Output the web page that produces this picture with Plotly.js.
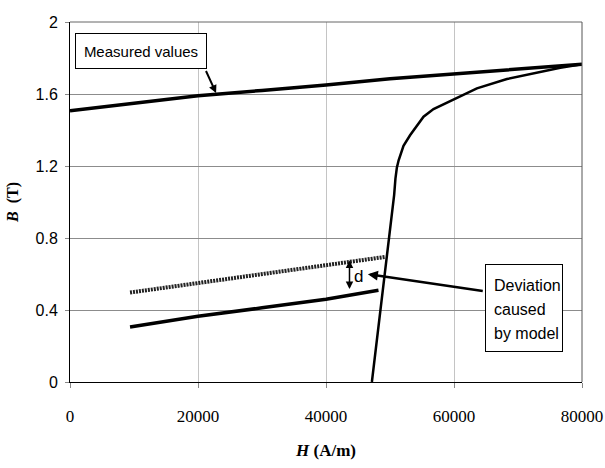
<!DOCTYPE html>
<html>
<head>
<meta charset="utf-8">
<script src="https://cdn.plot.ly/plotly-3.0.1.min.js"></script>
<style>html,body{margin:0;padding:0;background:#fff;}#chart{width:605px;height:468px;}</style>
</head>
<body>
<div id="chart"></div>
<script>
// Measured B-H values (upper straight branch)
const measuredH = [0, 10000, 20000, 30000, 40000, 50000, 60000, 70000, 80000];
const measuredB = [1.507, 1.55, 1.59, 1.62, 1.65, 1.685, 1.712, 1.74, 1.765];

// Magnetisation curve
const curveH = [47170, 48000, 48900, 49700, 50300, 50650, 50850, 51070, 51350, 51600, 52110, 53160, 54210, 55240, 56800, 58900, 60980, 63580, 68270, 73490, 76610, 80000];
const curveB = [0, 0.25, 0.5, 0.74, 0.93, 1.04, 1.13, 1.19, 1.232, 1.262, 1.312, 1.372, 1.427, 1.474, 1.516, 1.551, 1.585, 1.631, 1.683, 1.724, 1.746, 1.765];

// Model (dotted) line
const modelH = [9380, 49250];
const modelB = [0.497, 0.695];

// Lower solid line
const lowerH = [9380, 20000, 30000, 40000, 48200];
const lowerB = [0.306, 0.365, 0.412, 0.46, 0.51];

const xTicks = [0, 20000, 40000, 60000, 80000];
const yTicks = [0, 0.4, 0.8, 1.2, 1.6, 2];

const sans = "Liberation Sans, Arial, sans-serif";
const serif = "Liberation Serif, Times New Roman, serif";

const traces = [
  {x: measuredH, y: measuredB, mode: 'lines', line: {color: '#000', width: 3.5}, hoverinfo: 'skip'},
  {x: curveH, y: curveB, mode: 'lines', line: {color: '#000', width: 2.5, shape: 'linear'}, hoverinfo: 'skip'},
  {x: modelH, y: modelB, mode: 'lines', line: {color: '#222', width: 4, dash: '2px,1px'}, hoverinfo: 'skip'},
  {x: lowerH, y: lowerB, mode: 'lines', line: {color: '#000', width: 3.5}, hoverinfo: 'skip'}
];

const devLines = ['Deviation', 'caused', 'by model'];
const devAnn = devLines.map((t, i) => ({
  x: 0.8236, y: 0.268 - i * 0.0665, xref: 'paper', yref: 'paper', xanchor: 'left', yanchor: 'middle',
  text: t, showarrow: false, font: {family: sans, size: 16, color: '#000'}
}));

const layout = {
  width: 605, height: 468,
  margin: {l: 70, r: 23, t: 22, b: 86},
  paper_bgcolor: '#fff', plot_bgcolor: '#fff',
  showlegend: false,
  xaxis: {
    range: [0, 80000], tickvals: xTicks, ticktext: xTicks.map(String),
    showgrid: true, gridcolor: '#c4c4c4', gridwidth: 1,
    zeroline: false, showline: true, linecolor: '#000', linewidth: 1,
    ticks: 'outside', ticklen: 5, tickcolor: '#888',
    ticklabelstandoff: 14,
    tickfont: {family: serif, size: 17, color: '#000'},
    title: {text: '<b><i>H</i> (A/m)</b>', font: {family: serif, size: 17, color: '#000'}, standoff: 18}
  },
  yaxis: {
    range: [0, 2], tickvals: yTicks, ticktext: yTicks.map(String),
    showgrid: true, gridcolor: '#8c8c8c', gridwidth: 1,
    zeroline: false, showline: true, linecolor: '#000', linewidth: 1,
    ticks: 'outside', ticklen: 4, tickcolor: '#888',
    ticklabelstandoff: 4,
    tickfont: {family: sans, size: 16, color: '#000'},
    title: {text: '<b><i>B</i>  (T)</b>', font: {family: serif, size: 16, color: '#000'}, standoff: 12}
  },
  shapes: [
    {type: 'line', xref: 'paper', yref: 'paper', x0: 0, x1: 1, y0: 1, y1: 1, line: {color: '#666', width: 1}},
    {type: 'line', xref: 'paper', yref: 'paper', x0: 1, x1: 1, y0: 0, y1: 1, line: {color: '#555', width: 1}}
  ],
  annotations: [
    {x: 11086, y: 1.839, xref: 'x', yref: 'y', text: 'Measured values', showarrow: false,
     font: {family: sans, size: 15, color: '#000'}, bgcolor: '#fff', bordercolor: '#000', borderwidth: 1,
     borderpad: 0, width: 130, height: 34},
    {x: 22826, y: 1.605, ax: 21106, ay: 1.739, xref: 'x', yref: 'y', axref: 'x', ayref: 'y',
     text: ' ', font: {size: 1}, showarrow: true, arrowhead: 2, arrowsize: 0.8, arrowwidth: 2, arrowcolor: '#000'},
    {x: 70886, y: 0.4126, xref: 'x', yref: 'y', text: ' ', showarrow: false,
     font: {family: sans, size: 16, color: '#000'}, bgcolor: '#fff', bordercolor: '#000', borderwidth: 1,
     borderpad: 0, width: 76, height: 86},
    ...devAnn,
    {x: 46543, y: 0.599, ax: 64727, ay: 0.504, xref: 'x', yref: 'y', axref: 'x', ayref: 'y',
     text: ' ', font: {size: 1}, showarrow: true, arrowhead: 2, arrowsize: 0.8, arrowwidth: 2.5, arrowcolor: '#000'},
    {x: 43670, y: 0.675, ax: 43670, ay: 0.505, xref: 'x', yref: 'y', axref: 'x', ayref: 'y',
     text: ' ', font: {size: 1}, showarrow: true, arrowhead: 2, arrowside: 'end+start', arrowsize: 1, arrowwidth: 1.5, arrowcolor: '#000'},
    {x: 45080, y: 0.584, xref: 'x', yref: 'y', text: 'd', showarrow: false,
     font: {family: sans, size: 17, color: '#000'}}
  ]
};

Plotly.newPlot('chart', traces, layout, {displayModeBar: false, staticPlot: true});
</script>
</body>
</html>
